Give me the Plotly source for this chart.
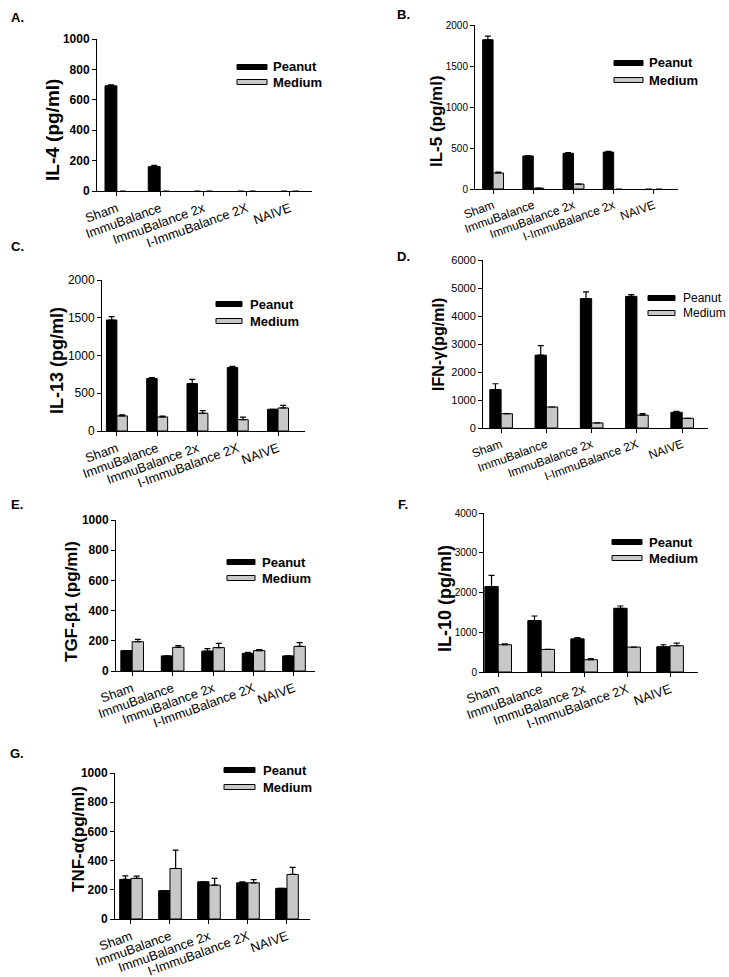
import plotly.graph_objects as go

# ---------------- data ----------------
categories = ["Sham", "ImmuBalance", "ImmuBalance 2x", "I-ImmuBalance 2X", "NAIVE"]
categories_b = ["Sham", "ImmuBalance", "ImmuBalance 2x", "I-ImmuBalance 2x", "NAIVE"]

il4_peanut = [692, 160, 0, 0, 0]
il4_peanut_err = [6, 8, None, None, None]
il4_medium = [0, 0, 0, 0, 0]
il4_medium_err = [None, None, None, None, None]

il5_peanut = [1820, 403, 435, 450, 0]
il5_peanut_err = [45, None, 10, 8, None]
il5_medium = [195, 10, 60, 0, 0]
il5_medium_err = [12, None, None, None, None]

il13_peanut = [1470, 695, 628, 840, 288]
il13_peanut_err = [45, 13, 55, 15, None]
il13_medium = [200, 186, 235, 150, 305]
il13_medium_err = [15, 12, 35, 35, 35]

ifng_peanut = [1370, 2600, 4620, 4700, 560]
ifng_peanut_err = [210, 340, 240, 60, 35]
ifng_medium = [510, 750, 180, 460, 345]
ifng_medium_err = [None, None, None, 50, None]

tgfb_peanut = [135, 100, 132, 117, 100]
tgfb_peanut_err = [None, None, 16, 7, None]
tgfb_medium = [194, 157, 155, 135, 163]
tgfb_medium_err = [16, 11, 28, 6, 25]

il10_peanut = [2150, 1294, 835, 1603, 635]
il10_peanut_err = [280, 115, 33, 57, 50]
il10_medium = [685, 568, 309, 626, 660]
il10_medium_err = [25, None, 25, None, 65]

tnfa_peanut = [271, 194, 255, 248, 210]
tnfa_peanut_err = [25, None, None, 7, None]
tnfa_medium = [278, 346, 232, 248, 305]
tnfa_medium_err = [16, 126, 46, 22, 48]

ytick_max = [1000, 2000, 2000, 6000, 1000, 4000, 1000]
ytick_step = [200, 500, 500, 1000, 200, 1000, 200]
series_names = ["Peanut", "Medium"]

# ---------------- layout helpers ----------------
W, H = 729, 977


def px(x):
    return x / W


def py(y):
    return 1 - y / H


FONT = "Liberation Sans"
PEANUT_COLOR = "#000000"
MEDIUM_COLOR = "#c8c8c8"

panels = [
    dict(letter="A.", title="IL-4 (pg/ml)", cats=categories,
         pv=il4_peanut, pe=il4_peanut_err, mv=il4_medium, me=il4_medium_err,
         dx=(97, 312), dy=(39, 191), xr=(-0.46, 4.51), bw=0.275,
         letter_pos=(17, 17), title_pos=(52, 130), title_size=19,
         ytf=dict(size=12, weight="bold"), xtf_size=13,
         leg=(237, 267, 67, 82, 271), leg_font=dict(size=13, weight="bold")),
    dict(letter="B.", title="IL-5 (pg/ml)", cats=categories_b,
         pv=il5_peanut, pe=il5_peanut_err, mv=il5_medium, me=il5_medium_err,
         dx=(475, 678), dy=(25, 189), xr=(-0.45, 4.6), bw=0.26,
         letter_pos=(404, 14), title_pos=(436, 121), title_size=17,
         ytf=dict(size=10, weight="normal"), xtf_size=12,
         leg=(614, 643, 63, 80, 647), leg_font=dict(size=13, weight="bold")),
    dict(letter="C.", title="IL-13 (pg/ml)", cats=categories,
         pv=il13_peanut, pe=il13_peanut_err, mv=il13_medium, me=il13_medium_err,
         dx=(102, 305), dy=(280, 431), xr=(-0.37, 4.67), bw=0.26,
         letter_pos=(17, 247), title_pos=(57, 361), title_size=18,
         ytf=dict(size=12, weight="normal"), xtf_size=13,
         leg=(216, 242, 304, 321, 248), leg_font=dict(size=13, weight="bold")),
    dict(letter="D.", title="IFN-γ(pg/ml)", cats=categories,
         pv=ifng_peanut, pe=ifng_peanut_err, mv=ifng_medium, me=ifng_medium_err,
         dx=(483, 708), dy=(260, 428), xr=(-0.4, 4.57), bw=0.25,
         letter_pos=(404, 256), title_pos=(438, 345), title_size=16,
         ytf=dict(size=11, weight="normal"), xtf_size=12,
         leg=(648, 675, 298, 313, 681), leg_font=dict(size=12, weight="normal")),
    dict(letter="E.", title="TGF-β1 (pg/ml)", cats=categories,
         pv=tgfb_peanut, pe=tgfb_peanut_err, mv=tgfb_medium, me=tgfb_medium_err,
         dx=(116, 315), dy=(520, 671), xr=(-0.4, 4.52), bw=0.28,
         letter_pos=(17, 504), title_pos=(71, 602), title_size=17,
         ytf=dict(size=12, weight="bold"), xtf_size=13,
         leg=(227, 255, 562, 578, 260), leg_font=dict(size=13, weight="bold")),
    dict(letter="F.", title="IL-10 (pg/ml)", cats=categories,
         pv=il10_peanut, pe=il10_peanut_err, mv=il10_medium, me=il10_medium_err,
         dx=(484, 698), dy=(513, 672), xr=(-0.33, 4.65), bw=0.31,
         letter_pos=(403, 504), title_pos=(445, 598), title_size=18,
         ytf=dict(size=10, weight="normal"), xtf_size=13,
         leg=(612, 642, 542, 558, 647), leg_font=dict(size=13, weight="bold")),
    dict(letter="G.", title="TNF-α(pg/ml)", cats=categories,
         pv=tnfa_peanut, pe=tnfa_peanut_err, mv=tnfa_medium, me=tnfa_medium_err,
         dx=(115, 310), dy=(773, 919), xr=(-0.41, 4.59), bw=0.29,
         letter_pos=(17, 753), title_pos=(78, 839), title_size=17,
         ytf=dict(size=12, weight="bold"), xtf_size=13,
         leg=(224, 255, 770, 787, 261), leg_font=dict(size=13, weight="bold")),
]


def err_dict(errs):
    return dict(type="data", symmetric=False, array=errs,
                arrayminus=[None if e is None else 0 for e in errs],
                color="black", thickness=1.2, width=3, visible=True)


def outline_widths(vals):
    # no outline for empty (zero-height) bars
    return [1 if v else 0 for v in vals]


fig = go.Figure()
layout = dict(width=W, height=H, margin=dict(l=0, r=0, t=0, b=0),
              paper_bgcolor="white", plot_bgcolor="white",
              showlegend=False, barmode="overlay",
              font=dict(family=FONT, color="black"))
annotations = []
shapes = []

for i, p in enumerate(panels):
    n = i + 1
    xa = "x" if n == 1 else f"x{n}"
    ya = "y" if n == 1 else f"y{n}"
    xkey = "xaxis" if n == 1 else f"xaxis{n}"
    ykey = "yaxis" if n == 1 else f"yaxis{n}"
    bw = p["bw"]
    fig.add_trace(go.Bar(x=p["cats"], y=p["pv"], name=series_names[0],
                         xaxis=xa, yaxis=ya, width=bw, offset=-bw,
                         marker=dict(color=PEANUT_COLOR,
                                     line=dict(color="black", width=outline_widths(p["pv"]))),
                         error_y=err_dict(p["pe"])))
    fig.add_trace(go.Bar(x=p["cats"], y=p["mv"], name=series_names[1],
                         xaxis=xa, yaxis=ya, width=bw, offset=0,
                         marker=dict(color=MEDIUM_COLOR,
                                     line=dict(color="black", width=outline_widths(p["mv"]))),
                         error_y=err_dict(p["me"])))
    layout[xkey] = dict(domain=[px(p["dx"][0]), px(p["dx"][1])], anchor=ya,
                        type="category", categoryorder="array", categoryarray=p["cats"],
                        range=list(p["xr"]), showline=True, linecolor="black", linewidth=1,
                        ticks="outside", ticklen=4, tickcolor="black", tickwidth=1,
                        showgrid=False, zeroline=False, tickangle=-20,
                        tickfont=dict(family=FONT, size=p["xtf_size"], color="black"),
                        automargin=False, fixedrange=True)
    ymax = ytick_max[i]
    layout[ykey] = dict(domain=[py(p["dy"][1]), py(p["dy"][0])], anchor=xa,
                        range=[0, ymax], tick0=0, dtick=ytick_step[i],
                        showline=True, linecolor="black", linewidth=1,
                        ticks="outside", ticklen=4, tickcolor="black", tickwidth=1,
                        showgrid=False, zeroline=False,
                        tickfont=dict(family=FONT, color="black", **p["ytf"]),
                        automargin=False, fixedrange=True)
    # panel letter
    annotations.append(dict(text=p["letter"], x=px(p["letter_pos"][0]), y=py(p["letter_pos"][1]),
                            xref="paper", yref="paper", showarrow=False,
                            xanchor="center", yanchor="middle",
                            font=dict(family=FONT, size=13, weight="bold", color="black")))
    # y-axis title
    annotations.append(dict(text=p["title"], x=px(p["title_pos"][0]), y=py(p["title_pos"][1]),
                            xref="paper", yref="paper", showarrow=False, textangle=-90,
                            xanchor="center", yanchor="middle",
                            font=dict(family=FONT, size=p["title_size"], weight="bold", color="black")))
    # legend
    x0, x1, y_pea, y_med, tx = p["leg"]
    for name, color, yc in ((series_names[0], PEANUT_COLOR, y_pea), (series_names[1], MEDIUM_COLOR, y_med)):
        shapes.append(dict(type="rect", xref="paper", yref="paper",
                           x0=px(x0), x1=px(x1), y0=py(yc + 2.5), y1=py(yc - 2.5),
                           fillcolor=color, line=dict(color="black", width=1)))
        annotations.append(dict(text=name, x=px(tx), y=py(yc), xref="paper", yref="paper",
                                showarrow=False, xanchor="left", yanchor="middle",
                                font=dict(family=FONT, color="black", **p["leg_font"])))

layout["annotations"] = annotations
layout["shapes"] = shapes
fig.update_layout(**layout)
fig.write_html("out.html",
               config=dict(displayModeBar=False, staticPlot=True),
               post_script="document.body.style.margin='0px';document.body.style.overflow='hidden';")
